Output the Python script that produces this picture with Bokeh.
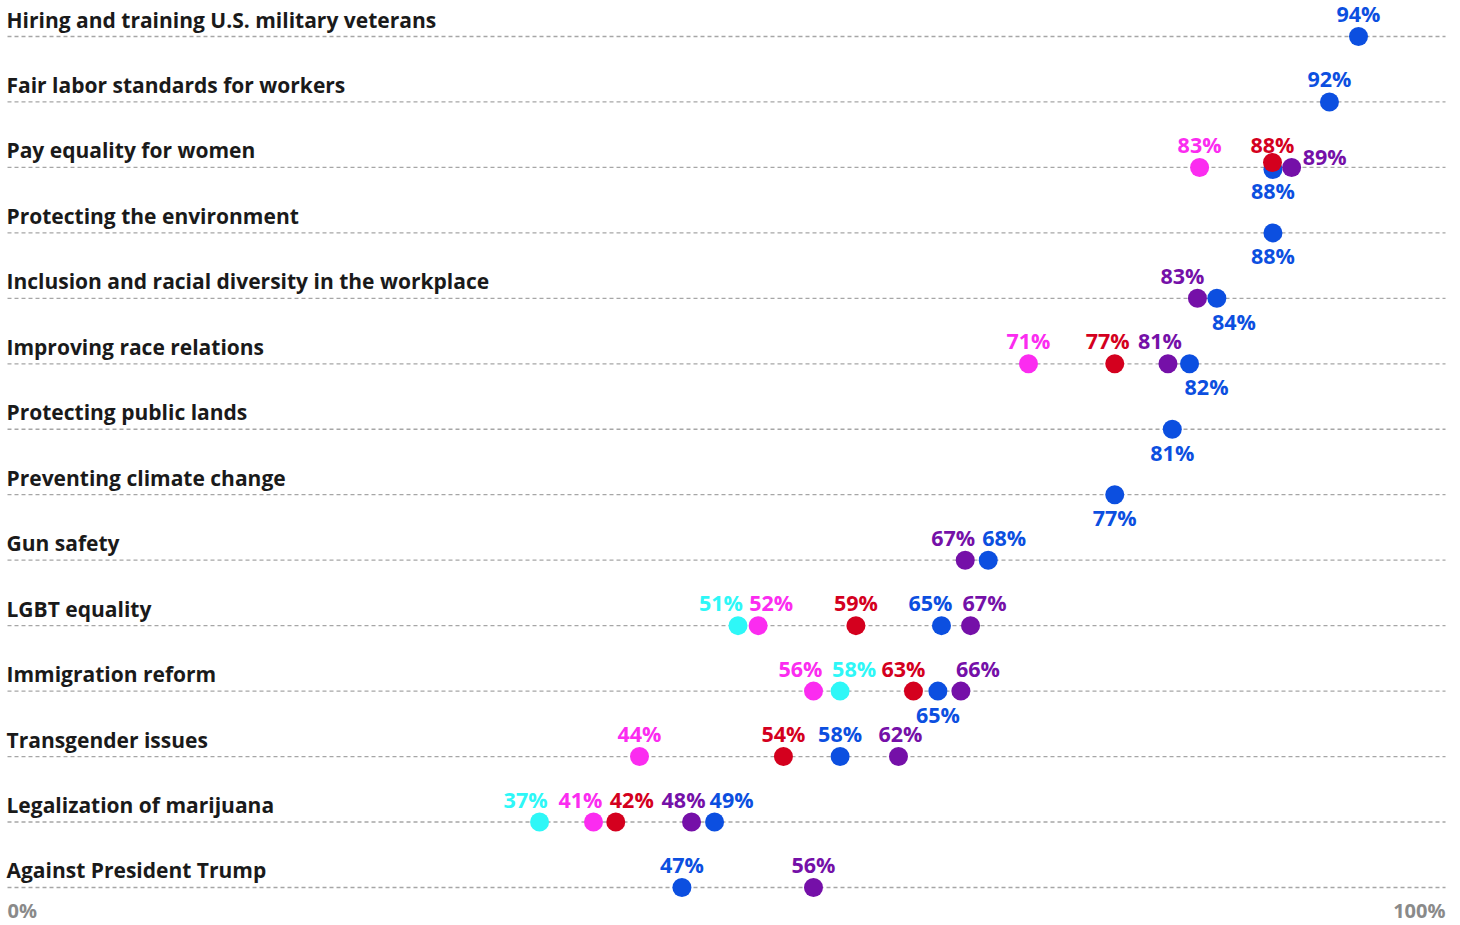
import math
from bokeh.plotting import figure
from bokeh.models import Range1d, ColumnDataSource
from bokeh.core.properties import value
from bokeh.embed import file_html
from bokeh.resources import INLINE

# ---------------- data ----------------
categories = [
    "Hiring and training U.S. military veterans",
    "Fair labor standards for workers",
    "Pay equality for women",
    "Protecting the environment",
    "Inclusion and racial diversity in the workplace",
    "Improving race relations",
    "Protecting public lands",
    "Preventing climate change",
    "Gun safety",
    "LGBT equality",
    "Immigration reform",
    "Transgender issues",
    "Legalization of marijuana",
    "Against President Trump",
]
NA = float("nan")
blue_vals = [93.95, 91.93, 88.0, 88.0, 84.1, 82.2, 81.0, 77.0, 68.2, 64.95, 64.7, 57.9, 49.17, 46.9]
purple_vals = [NA, NA, 89.3, NA, 82.75, 80.7, NA, NA, 66.6, 66.97, 66.3, 61.96, 47.57, 56.05]
red_vals = [NA, NA, 87.97, NA, NA, 77.0, NA, NA, NA, 59.0, 63.0, 53.96, 42.3, NA]
magenta_vals = [NA, NA, 82.9, NA, NA, 71.0, NA, NA, NA, 52.2, 56.05, 43.95, 40.75, NA]
cyan_vals = [NA, NA, NA, NA, NA, NA, NA, NA, NA, 50.8, 57.9, NA, 37.0, NA]
axis_ticks = [0, 100]
axis_tick_labels = ["0%", "100%"]

# ---------------- styling / layout ----------------
colors = {
    "blue": "#0c4fe0",
    "purple": "#7510a8",
    "red": "#d4001e",
    "magenta": "#fb2cf0",
    "cyan": "#2ef7f7",
}
# label placement per series: (mode, x pixel shift) per row
label_layout = {
    "blue": [("a", 0), ("a", 0), ("b", 0), ("b", 0), ("b", 17), ("b", 17), ("b", 0), ("b", 0),
             ("a", 16), ("a", -11), ("b", 0), ("a", 0), ("a", 17), ("a", 0)],
    "purple": [None, None, ("r", 0), None, ("a", -15), ("a", -8), None, None,
               ("a", -12), ("a", 14), ("a", 17), ("a", 2), ("a", -8), ("a", 0)],
    "red": [None, None, ("a", 0), None, None, ("a", -7), None, None, None,
            ("a", 0), ("a", -10), ("a", 0), ("a", 16), None],
    "magenta": [None, None, ("a", 0), None, None, ("a", 0), None, None, None,
                ("a", 13), ("a", -13), ("a", 0), ("a", -13), None],
    "cyan": [None] * 9 + [("a", -17), ("a", 14), None, ("a", -14), None],
}
dot_shift = {("red", 2): -5, ("blue", 2): 2}  # pixel nudges for overlapping dots

series = [
    ("blue", blue_vals),
    ("purple", purple_vals),
    ("red", red_vals),
    ("magenta", magenta_vals),
    ("cyan", cyan_vals),
]

FONT = value("Open Sans")
W, H = 1460, 925
row_px = 65.46
px_per = 14.38
y_top = 36 / row_px
x0 = -7 / px_per
p = figure(
    width=W, height=H, output_backend="svg", toolbar_location=None,
    x_range=Range1d(x0, x0 + W / px_per),
    y_range=Range1d(y_top - H / row_px, y_top),
    min_border=0, outline_line_color=None,
)
p.axis.visible = False
p.grid.visible = False
p.background_fill_color = "white"
p.border_fill_color = "white"

n = len(categories)
rows_y = [-i for i in range(n)]
BASE = -9  # baseline correction

# dashed row lines
p.segment(x0=[0] * n, x1=[100] * n, y0=rows_y, y1=rows_y,
          line_color="#a6a6a6", line_width=1.3, line_dash="4 3")

# category labels
p.text(x=[0] * n, y=rows_y, text=categories, x_offset=-1, y_offset=-8 + BASE,
       text_font=FONT, text_font_style="bold", text_font_size="21px",
       text_color="#1a1a1a", text_align="left", text_baseline="alphabetic")

# axis end labels
p.text(x=axis_ticks, y=[rows_y[-1]] * 2, text=axis_tick_labels, y_offset=[32 + BASE] * 2,
       text_align=["left", "right"], text_font=FONT, text_font_style="bold",
       text_font_size="20px", text_color="#8a8a8a", text_baseline="alphabetic")

for name, vals in series:
    xs, ys = [], []
    lx, ly, ltxt, lxo, lyo, lal = [], [], [], [], [], []
    for i, v in enumerate(vals):
        if v is None or math.isnan(v):
            continue
        shift = dot_shift.get((name, i), 0)
        xs.append(v)
        ys.append(rows_y[i] - shift / row_px)
        mode, dx = label_layout[name][i]
        lx.append(v)
        ly.append(rows_y[i])
        ltxt.append(f"{v:.0f}%")
        if mode == "a":
            lxo.append(dx); lyo.append(-14 + BASE); lal.append("center")
        elif mode == "b":
            lxo.append(dx); lyo.append(32 + BASE); lal.append("center")
        else:
            lxo.append(11 + dx); lyo.append(-2 + BASE); lal.append("left")
    p.scatter(x=xs, y=ys, size=19, fill_color=colors[name], line_color=None)
    src = ColumnDataSource(dict(x=lx, y=ly, t=ltxt, xo=lxo, yo=lyo, al=lal))
    p.text(x="x", y="y", text="t", x_offset="xo", y_offset="yo", text_align="al",
           source=src, text_font=FONT, text_font_style="bold",
           text_font_size="21.5px", text_color=colors[name], text_baseline="alphabetic")

open("out.html", "w").write(file_html(p, INLINE))
